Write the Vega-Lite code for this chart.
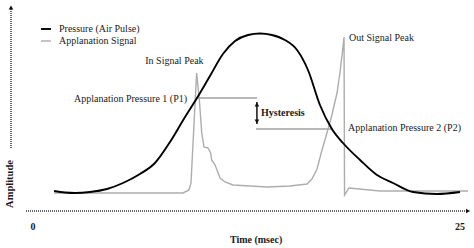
{
  "$schema": "https://vega.github.io/schema/vega-lite/v6.json",
  "width": 474,
  "height": 248,
  "autosize": "none",
  "padding": 0,
  "background": "white",
  "config": {"view": {"stroke": null}, "font": "Liberation Serif, Times New Roman, serif", "text": {"font": "Liberation Serif, Times New Roman, serif", "fontSize": 10, "color": "#1a1a1a", "baseline": "middle"}},
  "datasets": {
    "curves": [
      {"series": "Pressure (Air Pulse)", "i": 1, "t": 1.23, "amp": 20},
      {"series": "Pressure (Air Pulse)", "i": 2, "t": 1.87, "amp": 18.5},
      {"series": "Pressure (Air Pulse)", "i": 3, "t": 2.46, "amp": 18},
      {"series": "Pressure (Air Pulse)", "i": 4, "t": 3.34, "amp": 19},
      {"series": "Pressure (Air Pulse)", "i": 5, "t": 4.33, "amp": 22},
      {"series": "Pressure (Air Pulse)", "i": 6, "t": 5.27, "amp": 28},
      {"series": "Pressure (Air Pulse)", "i": 7, "t": 6.26, "amp": 37},
      {"series": "Pressure (Air Pulse)", "i": 8, "t": 7.14, "amp": 48},
      {"series": "Pressure (Air Pulse)", "i": 9, "t": 8.02, "amp": 69},
      {"series": "Pressure (Air Pulse)", "i": 10, "t": 8.90, "amp": 94},
      {"series": "Pressure (Air Pulse)", "i": 11, "t": 9.60, "amp": 113},
      {"series": "Pressure (Air Pulse)", "i": 12, "t": 10.36, "amp": 135},
      {"series": "Pressure (Air Pulse)", "i": 13, "t": 11.12, "amp": 157},
      {"series": "Pressure (Air Pulse)", "i": 14, "t": 11.83, "amp": 170},
      {"series": "Pressure (Air Pulse)", "i": 15, "t": 12.59, "amp": 176},
      {"series": "Pressure (Air Pulse)", "i": 16, "t": 13.29, "amp": 177.5},
      {"series": "Pressure (Air Pulse)", "i": 17, "t": 13.99, "amp": 176},
      {"series": "Pressure (Air Pulse)", "i": 18, "t": 14.75, "amp": 171},
      {"series": "Pressure (Air Pulse)", "i": 19, "t": 15.46, "amp": 161},
      {"series": "Pressure (Air Pulse)", "i": 20, "t": 16.10, "amp": 141},
      {"series": "Pressure (Air Pulse)", "i": 21, "t": 16.80, "amp": 106},
      {"series": "Pressure (Air Pulse)", "i": 22, "t": 17.50, "amp": 82},
      {"series": "Pressure (Air Pulse)", "i": 23, "t": 18.15, "amp": 68},
      {"series": "Pressure (Air Pulse)", "i": 24, "t": 19.15, "amp": 51},
      {"series": "Pressure (Air Pulse)", "i": 25, "t": 20.14, "amp": 36},
      {"series": "Pressure (Air Pulse)", "i": 26, "t": 21.08, "amp": 28},
      {"series": "Pressure (Air Pulse)", "i": 27, "t": 22.25, "amp": 19},
      {"series": "Pressure (Air Pulse)", "i": 28, "t": 23.65, "amp": 17},
      {"series": "Pressure (Air Pulse)", "i": 29, "t": 25.00, "amp": 19},
      {"series": "Applanation Signal", "i": 1, "t": 1.23, "amp": 18},
      {"series": "Applanation Signal", "i": 2, "t": 3.92, "amp": 18},
      {"series": "Applanation Signal", "i": 3, "t": 8.78, "amp": 18},
      {"series": "Applanation Signal", "i": 4, "t": 9.13, "amp": 21},
      {"series": "Applanation Signal", "i": 5, "t": 9.25, "amp": 28},
      {"series": "Applanation Signal", "i": 6, "t": 9.58, "amp": 138},
      {"series": "Applanation Signal", "i": 7, "t": 9.74, "amp": 111},
      {"series": "Applanation Signal", "i": 8, "t": 9.88, "amp": 78},
      {"series": "Applanation Signal", "i": 9, "t": 10.01, "amp": 64},
      {"series": "Applanation Signal", "i": 10, "t": 10.25, "amp": 63},
      {"series": "Applanation Signal", "i": 11, "t": 10.40, "amp": 58},
      {"series": "Applanation Signal", "i": 12, "t": 10.46, "amp": 51},
      {"series": "Applanation Signal", "i": 13, "t": 10.66, "amp": 46},
      {"series": "Applanation Signal", "i": 14, "t": 10.95, "amp": 33},
      {"series": "Applanation Signal", "i": 15, "t": 11.24, "amp": 29},
      {"series": "Applanation Signal", "i": 16, "t": 11.71, "amp": 26},
      {"series": "Applanation Signal", "i": 17, "t": 12.70, "amp": 25},
      {"series": "Applanation Signal", "i": 18, "t": 13.70, "amp": 24},
      {"series": "Applanation Signal", "i": 19, "t": 15.05, "amp": 25},
      {"series": "Applanation Signal", "i": 20, "t": 16.04, "amp": 27},
      {"series": "Applanation Signal", "i": 21, "t": 16.33, "amp": 32},
      {"series": "Applanation Signal", "i": 22, "t": 16.63, "amp": 42},
      {"series": "Applanation Signal", "i": 23, "t": 16.92, "amp": 61},
      {"series": "Applanation Signal", "i": 24, "t": 17.21, "amp": 78},
      {"series": "Applanation Signal", "i": 25, "t": 17.50, "amp": 96},
      {"series": "Applanation Signal", "i": 26, "t": 17.80, "amp": 118},
      {"series": "Applanation Signal", "i": 27, "t": 17.97, "amp": 138},
      {"series": "Applanation Signal", "i": 28, "t": 18.13, "amp": 161},
      {"series": "Applanation Signal", "i": 29, "t": 18.21, "amp": 174},
      {"series": "Applanation Signal", "i": 30, "t": 18.24, "amp": 16},
      {"series": "Applanation Signal", "i": 31, "t": 18.50, "amp": 23},
      {"series": "Applanation Signal", "i": 32, "t": 20.32, "amp": 20},
      {"series": "Applanation Signal", "i": 33, "t": 25.47, "amp": 20}
    ],
    "levels": [
      {"name": "P1", "t": 9.60, "t2": 13.11, "amp": 113},
      {"name": "P2", "t": 13.06, "t2": 17.56, "amp": 82}
    ],
    "hyst": [{"t": 13.11, "amp": 109, "amp2": 87}],
    "axes": [
      {"axis": "x", "t": -0.41, "t2": 25.45, "amp": 0, "amp2": 0},
      {"axis": "y", "t": -1.288, "t2": -1.288, "amp": 63, "amp2": 203}
    ],
    "heads": [
      {"t": -1.288, "amp": 203.5, "shape": "triangle-up"},
      {"t": 25.47, "amp": 0, "shape": "triangle-right"},
      {"t": 13.11, "amp": 106.5, "shape": "triangle-up"},
      {"t": 13.11, "amp": 89.5, "shape": "triangle-down"}
    ]
  },
  "encoding": {
    "x": {"field": "t", "type": "quantitative", "scale": {"domain": [-1.932, 25.82], "nice": false, "zero": false}, "axis": null},
    "y": {"field": "amp", "type": "quantitative", "scale": {"domain": [-37, 211], "nice": false, "zero": false}, "axis": null}
  },
  "layer": [
    {
      "data": {"name": "axes"},
      "mark": {"type": "rule", "color": "#333", "strokeWidth": 1.5, "strokeDash": [1, 1]},
      "encoding": {"x2": {"field": "t2"}, "y2": {"field": "amp2"}}
    },
    {
      "data": {"name": "heads"},
      "mark": {"type": "point", "filled": true, "color": "#111", "size": 22, "opacity": 1},
      "encoding": {"shape": {"field": "shape", "type": "nominal", "scale": null}}
    },
    {
      "data": {"name": "levels"},
      "mark": {"type": "rule", "color": "#a0a0a0", "strokeWidth": 1.5},
      "encoding": {"x2": {"field": "t2"}}
    },
    {
      "data": {"name": "hyst"},
      "mark": {"type": "rule", "color": "#111", "strokeWidth": 1.5},
      "encoding": {"y2": {"field": "amp2"}}
    },
    {
      "data": {"name": "curves"},
      "transform": [{"filter": "datum.series === 'Applanation Signal'"}],
      "mark": {"type": "line", "interpolate": "linear"},
      "encoding": {
        "order": {"field": "i", "type": "quantitative"},
        "color": {"field": "series", "type": "nominal", "title": null,
          "scale": {"domain": ["Pressure (Air Pulse)", "Applanation Signal"], "range": ["#000000", "#adadad"]},
          "legend": {"orient": "none", "legendX": 40, "legendY": 23, "symbolType": "stroke", "symbolSize": 100, "symbolStrokeWidth": 2, "labelFont": "Liberation Serif, Times New Roman, serif", "labelFontSize": 10, "labelColor": "#1a1a1a", "labelOffset": 7, "rowPadding": 1, "padding": 0}},
        "strokeWidth": {"field": "series", "type": "nominal", "title": null,
          "scale": {"domain": ["Pressure (Air Pulse)", "Applanation Signal"], "range": [1.9, 1.4]}}
      }
    },
    {
      "data": {"name": "curves"},
      "transform": [{"filter": "datum.series === 'Pressure (Air Pulse)'"}],
      "mark": {"type": "line", "interpolate": "monotone"},
      "encoding": {
        "order": {"field": "i", "type": "quantitative"},
        "color": {"field": "series", "type": "nominal", "title": null},
        "strokeWidth": {"field": "series", "type": "nominal", "title": null}
      }
    },
    {
      "data": {"values": [
        {"label": "Out Signal Peak", "t": 18.50, "amp": 173},
        {"label": "Applanation Pressure 2 (P2)", "t": 18.44, "amp": 83}
      ]},
      "mark": {"type": "text", "align": "left"},
      "encoding": {"text": {"field": "label"}}
    },
    {
      "data": {"values": [
        {"label": "Applanation Pressure 1 (P1)", "t": 9.02, "amp": 112}
      ]},
      "mark": {"type": "text", "align": "right"},
      "encoding": {"text": {"field": "label"}}
    },
    {
      "data": {"values": [
        {"label": "In Signal Peak", "t": 8.28, "amp": 150}
      ]},
      "mark": {"type": "text", "align": "center"},
      "encoding": {"text": {"field": "label"}}
    },
    {
      "data": {"values": [
        {"label": "Hysteresis", "t": 13.35, "amp": 98}
      ]},
      "mark": {"type": "text", "align": "left", "fontWeight": "bold"},
      "encoding": {"text": {"field": "label"}}
    },
    {
      "data": {"values": [
        {"label": "0", "t": 0, "amp": -16},
        {"label": "25", "t": 25, "amp": -16},
        {"label": "Time (msec)", "t": 13.06, "amp": -29}
      ]},
      "mark": {"type": "text", "align": "center", "fontWeight": "bold"},
      "encoding": {"text": {"field": "label"}}
    },
    {
      "data": {"values": [
        {"label": "Amplitude", "t": -1.347, "amp": 27}
      ]},
      "mark": {"type": "text", "align": "center", "fontWeight": "bold", "angle": 270, "fontSize": 10.5},
      "encoding": {"text": {"field": "label"}}
    }
  ]
}
